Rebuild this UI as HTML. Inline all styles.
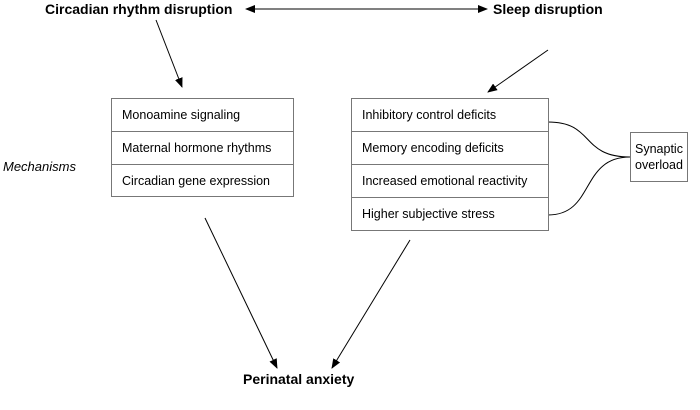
<!DOCTYPE html>
<html><head><style>
body{margin:0;width:700px;height:410px;background:#fff;font-family:"Liberation Sans",Arial,sans-serif;position:relative;overflow:hidden;color:#000}
.t{position:absolute;white-space:nowrap}
.b{font-weight:bold;font-size:14px}
.box{position:absolute;border:1px solid #777;box-sizing:border-box}
.row{height:33px;line-height:33px;font-size:12.5px;padding-left:10px;border-bottom:1px solid #777;box-sizing:border-box}
.row:last-child{border-bottom:none}
</style></head><body>
<svg width="700" height="410" style="position:absolute;left:0;top:0">
<defs><marker id="a" markerWidth="10" markerHeight="8" refX="9" refY="4" orient="auto" markerUnits="userSpaceOnUse"><path d="M0,0 L10,4 L0,8z" fill="#000"/></marker>
<marker id="s" markerWidth="10" markerHeight="8" refX="1" refY="4" orient="auto" markerUnits="userSpaceOnUse"><path d="M10,0 L0,4 L10,8z" fill="#000"/></marker></defs>
<g stroke="#000" stroke-width="1" fill="none">
<line x1="246" y1="9" x2="487" y2="9" marker-start="url(#s)" marker-end="url(#a)"/>
<line x1="156" y1="20" x2="182" y2="87" marker-end="url(#a)"/>
<line x1="548" y1="50" x2="488" y2="92" marker-end="url(#a)"/>
<line x1="205" y1="218" x2="277" y2="368" marker-end="url(#a)"/>
<line x1="410" y1="240" x2="332" y2="368" marker-end="url(#a)"/>
<path d="M548,122 C595,122 580,157 630,157"/>
<path d="M548,215 C595,215 580,157 630,157"/>
</g></svg>
<div class="t b" style="left:45px;top:1px">Circadian rhythm disruption</div>
<div class="t b" style="left:493px;top:1px">Sleep disruption</div>
<div class="t" style="left:3px;top:159px;font-style:italic;font-size:13px">Mechanisms</div>
<div class="box" style="left:111px;top:98px;width:183px;height:99px">
<div class="row">Monoamine signaling</div><div class="row">Maternal hormone rhythms</div><div class="row">Circadian gene expression</div></div>
<div class="box" style="left:351px;top:98px;width:198px;height:133px">
<div class="row">Inhibitory control deficits</div><div class="row">Memory encoding deficits</div><div class="row">Increased emotional reactivity</div><div class="row">Higher subjective stress</div></div>
<div class="box" style="left:630px;top:132px;width:58px;height:50px;font-size:12.5px;text-align:center;line-height:16px;padding-top:8px">Synaptic<br>overload</div>
<div class="t b" style="left:243px;top:371px">Perinatal anxiety</div>
</body></html>
